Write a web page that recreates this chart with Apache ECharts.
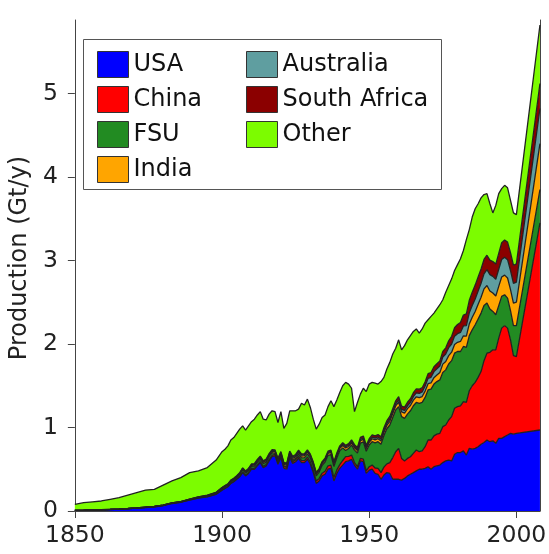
<!DOCTYPE html>
<html><head><meta charset="utf-8">
<script src="https://cdn.jsdelivr.net/npm/echarts@6/dist/echarts.min.js"></script>
<style>html,body{margin:0;padding:0;background:#fff}#c{width:549px;height:554px}</style>
</head><body><div id="c"></div>
<script>
const years = [1850,1853,1856,1859,1862,1865,1868,1871,1874,1877,1880,1883,1886,1889,1892,1895,1898,
1900,1901,1902,1903,1904,1905,1906,1907,1908,1909,
1910,1911,1912,1913,1914,1915,1916,1917,1918,1919,
1920,1921,1922,1923,1924,1925,1926,1927,1928,1929,
1930,1931,1932,1933,1934,1935,1936,1937,1938,1939,
1940,1941,1942,1943,1944,1945,1946,1947,1948,1949,
1950,1951,1952,1953,1954,1955,1956,1957,1958,1959,
1960,1961,1962,1963,1964,1965,1966,1967,1968,1969,
1970,1971,1972,1973,1974,1975,1976,1977,1978,1979,
1980,1981,1982,1983,1984,1985,1986,1987,1988,1989,
1990,1991,1992,1993,1994,1995,1996,1997,1998,1999,
2000,2008];

const usa = [0.007,0.009,0.012,0.015,0.018,0.022,0.028,0.035,0.042,0.05,0.065,0.09,0.105,0.13,0.155,0.17,0.2,
0.25,0.27,0.29,0.33,0.35,0.38,0.41,0.46,0.42,0.45,
0.5,0.5,0.54,0.58,0.52,0.54,0.6,0.65,0.66,0.56,
0.64,0.51,0.5,0.64,0.57,0.59,0.63,0.58,0.58,0.62,
0.56,0.46,0.33,0.36,0.42,0.44,0.5,0.51,0.36,0.45,
0.51,0.55,0.59,0.6,0.62,0.55,0.5,0.6,0.59,0.45,
0.49,0.5,0.45,0.44,0.38,0.43,0.46,0.45,0.38,0.38,
0.38,0.37,0.39,0.42,0.44,0.46,0.48,0.5,0.5,0.51,
0.53,0.5,0.53,0.54,0.55,0.58,0.6,0.61,0.6,0.68,
0.7,0.7,0.72,0.67,0.75,0.74,0.75,0.77,0.8,0.82,
0.85,0.83,0.84,0.81,0.87,0.87,0.89,0.91,0.93,0.92,
0.93,0.97];

const china = [0,0,0,0,0,0,0,0,0.001,0.001,0.001,0.001,0.001,0.002,0.002,0.002,0.002,
0.002,0.003,0.003,0.004,0.004,0.005,0.006,0.007,0.008,0.009,
0.01,0.011,0.012,0.013,0.014,0.015,0.016,0.017,0.018,0.019,
0.02,0.02,0.021,0.022,0.022,0.022,0.023,0.024,0.024,0.025,
0.025,0.027,0.028,0.03,0.033,0.036,0.04,0.038,0.04,0.042,
0.045,0.055,0.06,0.055,0.05,0.03,0.03,0.03,0.03,0.03,
0.04,0.05,0.065,0.07,0.08,0.095,0.105,0.13,0.26,0.33,
0.37,0.26,0.21,0.21,0.21,0.23,0.25,0.21,0.22,0.26,
0.32,0.35,0.37,0.38,0.38,0.43,0.43,0.48,0.53,0.55,
0.55,0.56,0.59,0.63,0.69,0.76,0.79,0.83,0.87,0.98,
1.04,1.07,1.09,1.12,1.2,1.32,1.33,1.28,1.12,0.94,
0.92,2.48];

const fsu = [0,0,0,0,0.001,0.001,0.001,0.001,0.001,0.002,0.003,0.004,0.004,0.005,0.006,0.008,0.011,
0.016,0.016,0.016,0.018,0.019,0.019,0.021,0.025,0.025,0.026,
0.025,0.027,0.031,0.029,0.032,0.031,0.034,0.031,0.012,0.009,
0.009,0.009,0.01,0.013,0.016,0.018,0.027,0.032,0.036,0.04,
0.048,0.056,0.064,0.076,0.094,0.11,0.127,0.128,0.133,0.146,
0.166,0.151,0.075,0.093,0.121,0.149,0.164,0.183,0.208,0.235,
0.26,0.28,0.3,0.32,0.34,0.38,0.42,0.45,0.48,0.5,
0.5,0.5,0.51,0.53,0.55,0.57,0.57,0.58,0.58,0.59,
0.6,0.61,0.62,0.63,0.64,0.65,0.66,0.67,0.67,0.66,
0.66,0.65,0.66,0.66,0.66,0.67,0.69,0.7,0.7,0.66,
0.6,0.52,0.46,0.42,0.39,0.38,0.37,0.36,0.35,0.36,
0.37,0.4];

const india = [0,0,0,0,0,0,0,0,0.001,0.001,0.001,0.001,0.001,0.002,0.002,0.003,0.004,
0.006,0.007,0.007,0.008,0.008,0.008,0.009,0.011,0.012,0.012,
0.012,0.012,0.015,0.016,0.016,0.017,0.017,0.018,0.02,0.022,
0.018,0.019,0.019,0.019,0.021,0.021,0.021,0.022,0.022,0.023,
0.024,0.022,0.02,0.02,0.022,0.023,0.023,0.025,0.028,0.028,
0.029,0.029,0.029,0.025,0.026,0.029,0.03,0.03,0.03,0.032,
0.033,0.035,0.036,0.036,0.037,0.039,0.04,0.044,0.046,0.048,
0.053,0.056,0.062,0.066,0.063,0.068,0.068,0.068,0.071,0.076,
0.074,0.073,0.077,0.078,0.088,0.099,0.101,0.101,0.102,0.104,
0.11,0.12,0.128,0.135,0.141,0.15,0.16,0.175,0.19,0.2,
0.21,0.215,0.22,0.225,0.23,0.232,0.235,0.24,0.25,0.27,
0.28,0.55];

const australia = [0,0,0,0,0,0.001,0.001,0.001,0.001,0.001,0.001,0.002,0.002,0.003,0.004,0.004,0.005,
0.007,0.007,0.007,0.007,0.007,0.007,0.008,0.009,0.009,0.008,
0.01,0.011,0.011,0.012,0.012,0.011,0.01,0.01,0.011,0.011,
0.013,0.013,0.013,0.013,0.014,0.014,0.014,0.014,0.013,0.012,
0.011,0.01,0.01,0.011,0.011,0.012,0.012,0.013,0.013,0.013,
0.013,0.014,0.015,0.014,0.014,0.014,0.015,0.015,0.016,0.016,
0.017,0.019,0.021,0.021,0.022,0.023,0.024,0.025,0.025,0.026,
0.028,0.03,0.032,0.034,0.038,0.042,0.046,0.05,0.055,0.06,
0.065,0.068,0.072,0.076,0.078,0.085,0.09,0.095,0.098,0.1,
0.103,0.108,0.118,0.125,0.132,0.14,0.15,0.16,0.168,0.18,
0.19,0.195,0.2,0.2,0.205,0.21,0.215,0.22,0.23,0.235,
0.24,0.42];

const southAfrica = [0,0,0,0,0,0,0,0,0,0,0,0,0,0.001,0.001,0.002,0.002,
0.001,0.002,0.002,0.003,0.003,0.003,0.004,0.004,0.005,0.005,
0.006,0.007,0.008,0.008,0.008,0.009,0.01,0.01,0.011,0.01,
0.011,0.011,0.01,0.011,0.012,0.012,0.013,0.013,0.013,0.013,
0.013,0.011,0.01,0.011,0.012,0.013,0.014,0.015,0.016,0.016,
0.017,0.018,0.019,0.02,0.021,0.022,0.022,0.023,0.024,0.025,
0.026,0.027,0.028,0.028,0.029,0.031,0.033,0.034,0.035,0.036,
0.038,0.039,0.04,0.042,0.044,0.047,0.048,0.05,0.051,0.052,
0.055,0.057,0.058,0.06,0.062,0.067,0.073,0.083,0.092,0.1,
0.11,0.12,0.13,0.14,0.15,0.16,0.165,0.168,0.17,0.172,
0.173,0.175,0.178,0.182,0.19,0.2,0.205,0.21,0.215,0.218,
0.22,0.3];

const other = [0.073,0.091,0.098,0.105,0.121,0.136,0.16,0.183,0.204,0.205,0.239,0.262,0.287,0.317,0.31,0.331,0.386,
0.428,0.435,0.455,0.48,0.489,0.508,0.522,0.504,0.491,0.51,
0.507,0.532,0.533,0.532,0.498,0.467,0.473,0.464,0.458,0.429,
0.479,0.408,0.477,0.482,0.545,0.523,0.492,0.605,0.582,0.607,
0.559,0.514,0.518,0.532,0.528,0.516,0.534,0.591,0.66,0.635,
0.64,0.683,0.752,0.713,0.618,0.396,0.539,0.519,0.572,0.642,
0.654,0.629,0.63,0.605,0.662,0.602,0.618,0.647,0.654,0.63,
0.681,0.675,0.736,0.748,0.755,0.733,0.718,0.672,0.703,0.702,
0.646,0.672,0.643,0.656,0.672,0.619,0.666,0.661,0.688,0.686,
0.717,0.762,0.774,0.89,0.847,0.9,0.915,0.877,0.852,0.778,
0.737,0.675,0.582,0.703,0.715,0.648,0.655,0.65,0.625,0.627,
0.59,0.7];

const seriesNames = ['USA','China','FSU','India','Australia','South Africa','Other'];
const seriesColors = ['#0000ff','#ff0000','#228b22','#ffa500','#5f9ea0','#8b0000','#7cfc00'];
const seriesValues = [usa, china, fsu, india, australia, southAfrica, other];
const xTicks = [1850,1900,1950,2000];
const yTicks = [0,1,2,3,4,5];
const xRange = [1850, 2008];
const yRange = [0, 5.88];

const FONT = 'DejaVu Sans';

// Category axis holding every calendar year of the range, so the (irregularly
// sampled) data years land at their true positions and stacking is by year.
const axisYears = [];
for (let y = xRange[0]; y <= xRange[1]; y++) axisYears.push(String(y));
const isTickYear = (idx, val) => xTicks.indexOf(Number(val)) >= 0;

const series = seriesNames.map((name, i) => ({
  name: name,
  type: 'line',
  stack: 'total',
  symbol: 'none',
  showSymbol: false,
  smooth: false,
  connectNulls: true,
  data: years.map((y, j) => [String(y), seriesValues[i][j]]),
  lineStyle: { color: '#222222', width: 1.3 },
  areaStyle: { color: seriesColors[i], opacity: 1 },
  itemStyle: { color: seriesColors[i] },
  emphasis: { disabled: true },
  z: 2
}));

const legendItem = i => ({ name: seriesNames[i], itemStyle: { color: seriesColors[i] } });
const legendBase = {
  orient: 'vertical',
  icon: 'rect',
  itemWidth: 31,
  itemHeight: 26,
  itemGap: 8,
  selectedMode: false,
  z: 5,
  padding: 0,
  itemStyle: { borderColor: '#333', borderWidth: 1 },
  textStyle: { fontSize: 24, fontFamily: FONT, color: '#111' }
};

const chart = echarts.init(document.getElementById('c'), null, { renderer: 'canvas' });
chart.setOption({
  animation: false,
  backgroundColor: '#ffffff',
  grid: { left: 69, right: 9, top: 20, bottom: 43, containLabel: false },
  xAxis: {
    type: 'category',
    data: axisYears,
    boundaryGap: false,
    axisLine: { show: true, lineStyle: { color: '#444', width: 1 } },
    axisTick: { show: true, inside: false, length: 7, interval: isTickYear, lineStyle: { color: '#444' } },
    axisLabel: {
      interval: isTickYear,
      margin: 13,
      fontSize: 23.5, fontFamily: FONT, color: '#222'
    },
    splitLine: { show: false }
  },
  yAxis: [{
    type: 'value',
    min: yRange[0],
    max: yRange[1],
    interval: 1,
    name: 'Production (Gt/y)',
    nameLocation: 'middle',
    nameGap: 35,
    nameTextStyle: { fontSize: 24, fontFamily: FONT, color: '#222', padding: [0, 0, 0, 15] },
    axisLine: { show: true, lineStyle: { color: '#444', width: 1 } },
    axisTick: { show: true, inside: false, length: 7, customValues: yTicks, lineStyle: { color: '#444' } },
    axisLabel: { customValues: yTicks, margin: 17, fontSize: 23.5, fontFamily: FONT, color: '#222' },
    splitLine: { show: false }
  }, {
    type: 'value',
    position: 'right',
    min: yRange[0],
    max: yRange[1],
    axisLine: { show: true, lineStyle: { color: '#444', width: 1 } },
    axisTick: { show: false },
    axisLabel: { show: false },
    splitLine: { show: false }
  }],
  legend: [
    Object.assign({}, legendBase, { left: 97, top: 51, data: [0,1,2,3].map(legendItem) }),
    Object.assign({}, legendBase, { left: 246, top: 51, data: [4,5,6].map(legendItem) })
  ],
  graphic: [{
    type: 'rect',
    z: 3,
    shape: { x: 83.5, y: 39.5, width: 358, height: 150 },
    style: { fill: '#ffffff', stroke: '#555', lineWidth: 1 }
  }],
  series: series
});
</script>
</body></html>
